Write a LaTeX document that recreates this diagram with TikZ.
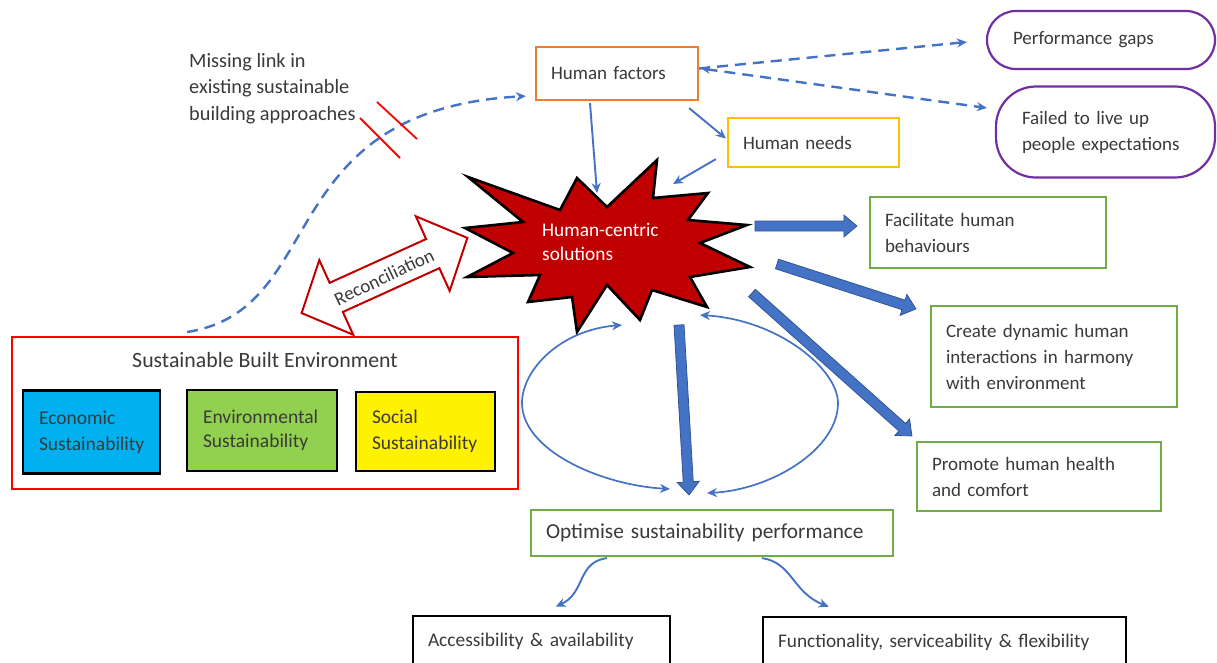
\documentclass[tikz,border=0pt]{standalone}
\usepackage{fontspec}
\setmainfont{Carlito}
\usetikzlibrary{arrows.meta,calc}
\definecolor{blu}{HTML}{4472C4}
\definecolor{bluedge}{HTML}{2F5597}
\definecolor{grn}{HTML}{70AD47}
\definecolor{org}{HTML}{ED7D31}
\definecolor{ylw}{HTML}{FFC000}
\definecolor{prp}{HTML}{7030A0}
\definecolor{starred}{HTML}{C00000}
\definecolor{txt}{HTML}{3A3A3A}
\definecolor{econ}{HTML}{00B0F0}
\definecolor{envi}{HTML}{92D050}
\newcommand{\fs}{\fontsize{19}{26}\selectfont}
\newcommand{\blkarrow}[2]{%
  \coordinate (bk-c) at ($(#2)!13pt!(#1)$);
  \filldraw[thickarr] ($(#1)!5pt!90:(#2)$) -- ($(bk-c)!5pt!90:(#2)$) -- ($(bk-c)!11pt!90:(#2)$) -- (#2)
     -- ($(bk-c)!11pt!-90:(#2)$) -- ($(bk-c)!5pt!-90:(#2)$) -- ($(#1)!5pt!-90:(#2)$) -- cycle;}
\begin{document}
\begin{tikzpicture}[x=1pt,y=-1pt,
  box/.style={draw, line width=2.2pt, inner xsep=15pt, inner ysep=0pt, align=left, font=\fs, text=txt},
  gbox/.style={box, draw=grn},
  kbox/.style={box, draw=black, line width=2.6pt},
  sbox/.style={box, draw=black, line width=2.6pt, inner xsep=16pt},
  conn/.style={draw=blu, line width=1.9pt, -{Stealth[length=10pt,width=9pt]}},
  dconn/.style={conn, line width=2.4pt, dash pattern=on 11pt off 7pt},
  earr/.style={draw=blu, line width=1.7pt, {Stealth[length=10pt,width=9pt]}-{Stealth[length=10pt,width=9pt]}},
  thickarr/.style={fill=blu, draw=bluedge, line width=0.8pt, line join=miter},
  hatch/.style={draw=red, line width=1.8pt}]
\clip (0,0) rectangle (1217,662);
\fill[white] (0,0) rectangle (1217,662);

% ---------- boxes ----------
\node[box, draw=org, minimum width=162pt, minimum height=53pt, text width=132pt] (hf) at (617,73.5) {Human factors\\[-3pt]};
\node[box, draw=ylw, minimum width=171pt, minimum height=49pt, text width=141pt] (hn) at (813.5,142.5) {Human needs\\[-3pt]};
\node[box, draw=prp, rounded corners=29pt, minimum width=228pt, minimum height=58pt, text width=198pt, inner xsep=15pt] (pg) at (1101,40) {\hspace*{11pt}Performance gaps};
\node[box, draw=prp, rounded corners=40pt, minimum width=219pt, minimum height=91pt, text width=189pt] (fl) at (1105.5,132) {\hspace*{11pt}Failed to live up\\\hspace*{11pt}people expectations};
\node[gbox, minimum width=236pt, minimum height=71pt, text width=206pt] (fb) at (988,232.5) {Facilitate human\\behaviours\\[-4pt]};
\node[gbox, minimum width=246pt, minimum height=101pt, text width=216pt] (cd) at (1054,356.5) {Create dynamic human\\interactions in harmony\\with environment\\[-5pt]};
\node[gbox, minimum width=244pt, minimum height=69pt, text width=214pt] (ph) at (1039,476.5) {Promote human health\\and comfort\\[-2pt]};
\node[gbox, minimum width=362pt, minimum height=46pt, text width=332pt, font=\fontsize{21.3}{26}\selectfont] (os) at (712,533) {Optimise sustainability performance};
\node[kbox, minimum width=257pt, minimum height=50pt, text width=227pt, font=\fontsize{19.4}{26}\selectfont] (aa) at (541.5,641) {Accessibility \& availability};
\node[kbox, minimum width=363pt, minimum height=50pt, text width=333pt, font=\fontsize{19.3}{26}\selectfont] (fs) at (944.5,642) {Functionality, serviceability \& flexibility};

% ---------- sustainable built environment ----------
\node[draw=red, line width=2pt, minimum width=506pt, minimum height=152pt, inner sep=0pt] (sbe) at (265,413) {};
\node[font=\fontsize{21.8}{26}\selectfont, text=txt, anchor=base] (sbet) at (265,367) {Sustainable Built Environment};
\node[sbox, fill=econ, minimum width=137pt, minimum height=83pt, text width=105pt, font=\fontsize{19.5}{26}\selectfont] (ec) at (91.5,432) {Economic\\Sustainability\\[-6pt]};
\node[sbox, fill=envi, minimum width=150pt, minimum height=81pt, text width=118pt, font=\fontsize{19.5}{24.5}\selectfont] (en) at (262,430.5) {Environmental\\Sustainability\\[-4pt]};
\node[sbox, fill=yellow, minimum width=139pt, minimum height=79pt, text width=107pt, font=\fontsize{19.5}{26}\selectfont] (so) at (425.5,431.5) {Social\\Sustainability\\[-5pt]};

% ---------- missing link text ----------
\node[font=\fontsize{20.3}{26.5}\selectfont, text=txt, align=left, anchor=north west, inner sep=0pt] (ml) at (189,53) {Missing link in\\existing sustainable\\building approaches};

% ---------- star ----------
\draw[fill=starred, draw=black, line width=2.6pt, line join=miter, miter limit=20]
 (468,177) -- (560,210) -- (577,178) -- (607,207) -- (657,160) -- (653,198) -- (708,193) -- (688,220)
 -- (747,225) -- (700,243) -- (750,267) -- (690,277) -- (707,307) -- (652,290) -- (640,320) -- (607,285)
 -- (577,332) -- (572,297) -- (528,302) -- (540,275) -- (467,277) -- (513,253) -- (465,228) -- (523,222) -- cycle;
\node[font=\fontsize{19.3}{24}\selectfont, text=white, align=left, anchor=west, inner sep=0pt] (hc) at (542,242) {Human-centric\\solutions};

% ---------- reconciliation arrow ----------
\begin{scope}[shift={(384.5,275.5)}, rotate=24.4]
\draw[draw=starred, fill=white, line width=2pt, line join=miter]
 (-91,0) -- (-53,-41) -- (-53,-16) -- (53,-16) -- (53,-41) -- (91,0) -- (53,41) -- (53,16) -- (-53,16) -- (-53,41) -- cycle;
\end{scope}
\node[font=\fs, text=txt, rotate=25.4, inner sep=0pt] (rec) at (384,277) {Reconciliation};

% ---------- thin connectors ----------
\coordinate (stop) at (597,193);
\coordinate (sne) at (673,184);
\draw[conn] ($(hf.south)+(-27,2)$) -- (stop);
\draw[conn] ($(hf.south east)+(-10,7)$) -- ($(hn.west)+(-1,-4)$);
\draw[conn] ($(hn.south west)+(-11,-9)$) -- (sne);

% dashed
\draw[dconn] ($(hf.east)+(0,-5)$) -- ($(pg.west)+(-19,2)$);
\draw[dconn, {Stealth[length=9pt,width=8pt]}-{Stealth[length=10pt,width=9pt]}] ($(hf.east)+(2,-5)$) -- ($(fl.west)+(-8,-24)$);
\draw[dconn] ($(sbe.north west)+(176,-4)$) .. controls (330,310) and (270,110) .. ($(hf.south west)+(-9,-5)$);
\draw[hatch] (360,118) -- (400,158);
\draw[hatch] (377,102) -- (417,139);

% ---------- thick block arrows ----------
\coordinate (s1) at (755,226);
\coordinate (s2) at (777,264);
\coordinate (s3) at (752,293);
\coordinate (s4) at (679,325);
\coordinate (t1) at ($(fb.west)+(-12,-6.5)$);
\coordinate (t2) at ($(cd.north west)+(-14,4)$);
\coordinate (t3) at ($(ph.north west)+(-4,-5)$);
\coordinate (t4) at ($(os.north)+(-23,-14)$);
\blkarrow{s1}{t1}
\blkarrow{s2}{t2}
\blkarrow{s3}{t3}
\blkarrow{s4}{t4}

% ---------- ellipse arcs ----------
\coordinate (el1) at (622,325);
\coordinate (el2) at (670,489);
\coordinate (er1) at (700,315);
\coordinate (er2) at (707,493);
\draw[earr] (el1) .. controls (560,330) and (522,370) .. (522,403) .. controls (522,450) and (600,485) .. (el2);
\draw[earr] (er1) .. controls (780,320) and (838,370) .. (838,403) .. controls (838,450) and (770,490) .. (er2);

% ---------- bottom curved connectors ----------
\draw[conn] ($(os.south west)+(77,1)$) .. controls +(-30,4) and +(30,-14) .. ($(aa.north west)+(144,-8)$);
\draw[conn] ($(os.south west)+(232,1)$) .. controls +(30,4) and +(-36,-14) .. ($(fs.north west)+(67,-9)$);
\end{tikzpicture}
\end{document}
